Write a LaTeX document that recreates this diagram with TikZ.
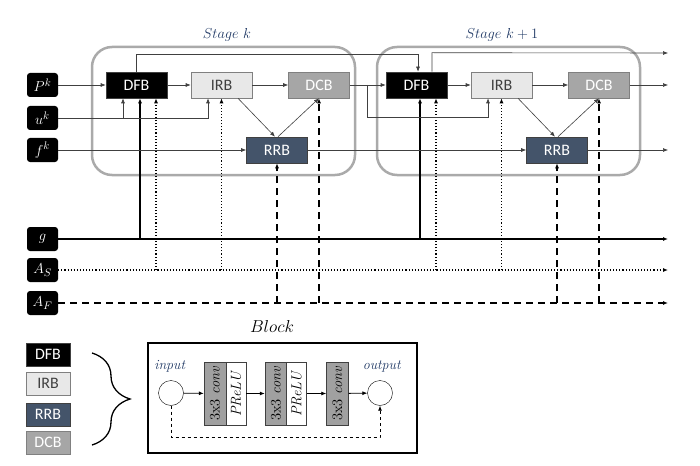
\documentclass[tikz,border=0pt]{standalone}
\usepackage{fontspec}
\newfontfamily\blkfont{Carlito}
\usepackage{xcolor}
\usetikzlibrary{arrows.meta, math, calc, decorations.pathreplacing}
\definecolor{navyblue}{RGB}{31,56,100}
\definecolor{rrbblue}{RGB}{68,84,106}
\definecolor{dcbgray}{RGB}{166,166,166}
\definecolor{irbgray}{RGB}{232,232,232}
\definecolor{linegray}{RGB}{64,64,64}
\definecolor{stagegray}{RGB}{170,170,170}
\definecolor{convgray}{RGB}{160,160,160}

\begin{document}
\begin{tikzpicture}[x=1pt,y=-1pt,
  >={Latex[length=5pt,width=4pt]},
  blk/.style={minimum width=61pt, minimum height=26pt, inner sep=0pt, line width=0.6pt,
    font=\blkfont\fontsize{16}{18}\selectfont},
  dfb/.style={blk, draw=linegray, fill=black, text=white},
  irb/.style={blk, draw=gray, fill=irbgray, text=linegray},
  rrb/.style={blk, draw=linegray, fill=rrbblue, text=white},
  dcb/.style={blk, draw=gray, fill=dcbgray, text=white},
  lgd/.style={minimum width=44pt, minimum height=23pt},
  invar/.style={fill=black, rounded corners=3pt, minimum width=31pt, minimum height=24pt,
    inner sep=0pt, text=white, font=\fontsize{15}{17}\selectfont},
  stage/.style={draw=stagegray, line width=2.5pt, rounded corners=20pt},
  stagetitle/.style={text=navyblue, font=\fontsize{15}{17}\selectfont},
  link/.style={linegray, line width=0.6pt, ->},
  gwire/.style={black, line width=1.2pt},
  swire/.style={black, line width=1.1pt, dotted},
  fwire/.style={black, line width=1.4pt, dash pattern=on 7pt off 5pt},
  conv/.style={draw=darkgray, fill=convgray, rotate=90, minimum width=63pt, minimum height=22pt,
    inner sep=0pt, font=\fontsize{14.5}{16}\selectfont},
  prelu/.style={conv, fill=white, minimum height=20pt},
  ring/.style={circle, draw, minimum size=25pt, inner sep=0pt}]
\tikzmath{
\dx=280;
}
\useasboundingbox (0,0) rectangle (700,465);

%stages
\draw[stage] (92,47) rectangle (355,175);
\draw[stage] (377,47) rectangle (640,175);
\node[stagetitle] (tk) at (227,35) {$Stage\ k$};
\node[stagetitle] (tk1) at (502,35) {$Stage\ k+1$};

%inputs
\node[invar] (pk) at (42.5,85) {$P^k$};
\node[invar] (uk) at (42.5,118) {$u^k$};
\node[invar] (fk) at (42.5,150) {$f^k$};
\node[invar] (g) at (42.5,239) {$g$};
\node[invar] (as) at (42.5,270) {$A_S$};
\node[invar] (af) at (42.5,303) {$A_F$};
\coordinate (gend) at (668,239);
\coordinate (asend) at (668,270);
\coordinate (afend) at (668,303);
\draw[gwire,->] (g.east) -- (gend);
\draw[swire,->] (as.east) -- (asend);
\draw[fwire,->] (af.east) -- (afend);

%blocks of each stage
\foreach \i in {0,1}{
  \tikzmath{\ox=\dx*\i;}
  \node[dfb] (dfb\i) at (136.5+\ox,85) {DFB};
  \node[irb] (irb\i) at (221.5+\ox,85) {IRB};
  \node[dcb] (dcb\i) at (319+\ox,85) {DCB};
  \node[rrb] (rrb\i) at (277+\ox,150) {RRB};
  \draw[link] (dfb\i) -- (irb\i);
  \draw[link] (irb\i) -- (dcb\i);
  \draw[link] ($(irb\i.south)+(16.5,0)$) -- ($(rrb\i.north)+(-2,0)$);
  \draw[link] ($(rrb\i.north)+(1,0)$) -- (dcb\i.south);
  % taps from g, A_S, A_F
  \coordinate (tg\i) at ($(dfb\i.south)+(3.5,0)$);
  \coordinate (ts\i) at ($(dfb\i.south)+(19.5,0)$);
  \draw[gwire,->] (tg\i |- g) -- (tg\i);
  \draw[swire,->] (ts\i |- as) -- (ts\i);
  \draw[swire,->] (irb\i.south |- as) -- (irb\i.south);
  \draw[fwire,->] (rrb\i.south |- af) -- (rrb\i.south);
  \draw[fwire,->] (dcb\i.south |- af) -- (dcb\i.south);
}

%stage k inputs
\draw[link] (pk) -- (dfb0);
\coordinate (ub0) at ($(dfb0.south)+(-13.5,0)$);
\draw[link] (uk.east) -| ($(irb0.south)+(-13.5,0)$);
\draw[link] (ub0 |- uk) -- (ub0);
\draw[link] (fk) -- (rrb0);

%stage k to stage k+1
\draw[link] (dcb0) -- (dfb1);
\draw[link] ($(dcb0.east)!0.48!(dfb1.west)$) -- ++(0,32) -| ($(irb1.south)+(-13.5,0)$);
\draw[link] (rrb0) -- (rrb1);
\draw[link] (dfb0.north) -- ++(0,-17) -| ($(dfb1.north)+(1.5,0)$);

%outputs
\coordinate (outd) at (668,53);
\coordinate (outc) at (668,85);
\coordinate (outr) at (668,150);
\draw[link] ($(dfb1.north)+(15.5,0)$) -- ++(0,-19) -- (outd);
\draw[link] (dcb1) -- (outc);
\draw[link] (rrb1) -- (outr);

%legend
\node[dfb, lgd] (ldfb) at (48,354.5) {DFB};
\node[irb, lgd] (lirb) at (48,383.5) {IRB};
\node[rrb, lgd] (lrrb) at (48,414.5) {RRB};
\node[dcb, lgd] (ldcb) at (48,442.5) {DCB};
\draw[line width=1.3pt, decorate, decoration={brace, amplitude=38pt}] (92,353) -- (92,445);

%block
\node[font=\fontsize{17}{19}\selectfont] (blktitle) at (272,326) {$Block$};
\node[draw, line width=1.5pt, minimum width=269pt, minimum height=110pt, inner sep=0pt] (blkbox) at (282.5,398) {};
\node[ring] (inp) at (171,393) {};
\node[ring] (outp) at (380,393) {};
\node[text=navyblue, font=\fontsize{14}{16}\selectfont] (inplbl) at (170,366) {\textit{input}};
\node[text=navyblue, font=\fontsize{14}{16}\selectfont] (outlbl) at (382,366) {\textit{output}};
\node[conv] (c1) at (215,393.5) {3x3 \textit{conv}};
\node[prelu] (p1) at (236,393.5) {\textit{PReLU}};
\node[conv] (c2) at (276,393.5) {3x3 \textit{conv}};
\node[prelu] (p2) at (296.5,393.5) {\textit{PReLU}};
\node[conv] (c3) at (337.5,393.5) {3x3 \textit{conv}};
\draw[->, line width=0.8pt] (inp) -- (c1);
\draw[->, line width=0.8pt] (p1) -- (c2);
\draw[->, line width=0.8pt] (p2) -- (c3);
\draw[->, line width=0.8pt] (c3) -- (outp);
\draw[->, line width=0.8pt, dashed] (inp.south) -- ++(0,31.5) -| (outp.south);
\end{tikzpicture}
\end{document}
